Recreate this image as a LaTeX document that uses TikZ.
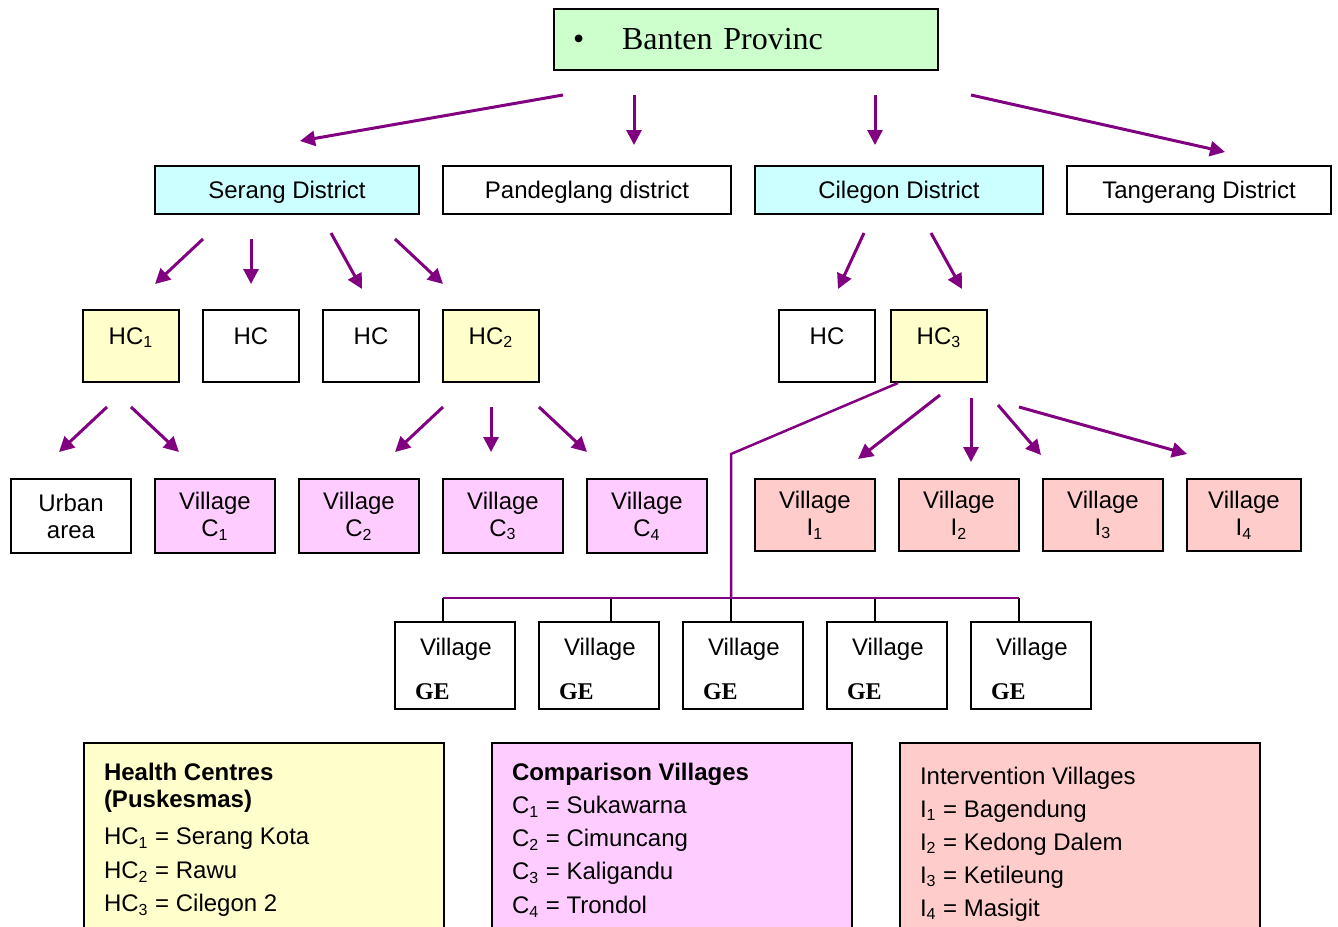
\documentclass[tikz,border=0pt]{standalone}
\usepackage{fontspec}
\setmainfont{Liberation Sans}
\newfontfamily\serifface{Liberation Serif}
\usetikzlibrary{arrows.meta}

\definecolor{provgreen}{HTML}{CCFFCC}
\definecolor{distcyan}{HTML}{CCFFFF}
\definecolor{hcyellow}{HTML}{FFFFCC}
\definecolor{comppink}{HTML}{FFCCFF}
\definecolor{intvred}{HTML}{FFCCCC}
\definecolor{linkpurple}{HTML}{800080}

\tikzset{
  every node/.style={font=\fontsize{12}{13.5}\selectfont},
  box/.style={draw, line width=1pt, inner sep=0pt, align=center},
  province/.style={box, fill=provgreen, align=left, text width=192pt, minimum height=30.5pt,
    font=\serifface\fontsize{16}{18}\selectfont},
  district/.style={box, minimum width=132pt, minimum height=24pt, text height=8.8pt, text depth=0.6pt},
  hcbox/.style={box, minimum width=48pt, text height=17pt, text depth=19pt},
  villbox/.style={box, minimum width=60pt, minimum height=37pt},
  gebox/.style={box, align=left, text width=40pt, inner xsep=10pt, minimum height=43.5pt},
  legend/.style={box, anchor=north west, inner xsep=10pt, inner ysep=10pt},
  arr/.style={draw=linkpurple, line width=1.5pt, -{Triangle[length=7.5pt,width=7.5pt]}},
  feed/.style={draw=linkpurple, line width=1.25pt},
}

\begin{document}
\begin{tikzpicture}[x=0.5pt, y=-0.5pt]
  \useasboundingbox (0,0) rectangle (1338,926);

  % Nodes
  \node[province] (banten) at (746,39.5) {\makebox[34pt][l]{\hspace*{9.5pt}\textbullet}Banten Provinc};

  \node[district, fill=distcyan] (serang) at (287,190) {Serang District};
  \node[district, minimum width=144pt] (pandeglang) at (587,190) {Pandeglang district};
  \node[district, minimum width=144pt, fill=distcyan] (cilegon) at (899,190) {Cilegon District};
  \node[district] (tangerang) at (1199,190) {Tangerang District};

  \node[hcbox, fill=hcyellow] (hcone) at (131,346) {HC\textsubscript{1}};
  \node[hcbox] (hcsa) at (251,346) {HC};
  \node[hcbox] (hcsb) at (371,346) {HC};
  \node[hcbox, fill=hcyellow] (hctwo) at (491,346) {HC\textsubscript{2}};
  \node[hcbox] (hcca) at (827,346) {HC};
  \node[hcbox, fill=hcyellow] (hcthree) at (939,346) {HC\textsubscript{3}};

  \node[villbox] (urban) at (71,516) {Urban\\area};
  \node[villbox, fill=comppink] (vcone) at (215,516) {Village\\C\textsubscript{1}};
  \node[villbox, fill=comppink] (vctwo) at (359,516) {Village\\C\textsubscript{2}};
  \node[villbox, fill=comppink] (vcthree) at (503,516) {Village\\C\textsubscript{3}};
  \node[villbox, fill=comppink] (vcfour) at (647,516) {Village\\C\textsubscript{4}};

  \node[villbox, fill=intvred, minimum height=36pt] (vione) at (815,515) {Village\\I\textsubscript{1}};
  \node[villbox, fill=intvred, minimum height=36pt] (vitwo) at (959,515) {Village\\I\textsubscript{2}};
  \node[villbox, fill=intvred, minimum height=36pt] (vithree) at (1103,515) {Village\\I\textsubscript{3}};
  \node[villbox, fill=intvred, minimum height=36pt, minimum width=57pt] (vifour) at (1244,515) {Village\\I\textsubscript{4}};

  \foreach \i/\x in {1/455,2/599,3/743,4/887,5/1031}
    \node[gebox] (ge\i) at (\x,665.5) {\rule{0pt}{12.5pt}\hspace*{2.5pt}Village\\[8.5pt]{\serifface\bfseries GE}};

  % Legend
  \node[legend, fill=hcyellow] (hclegend) at (83,742) {\parbox[c][80pt][t]{160pt}{\raggedright
    \textbf{Health Centres}\\\textbf{(Puskesmas)}\\[5pt]
    HC\textsubscript{1} = Serang Kota\\[3.5pt]
    HC\textsubscript{2} = Rawu\\[3.25pt]
    HC\textsubscript{3} = Cilegon 2}};
  \node[legend, fill=comppink] (complegend) at (491,742) {\parbox[c][80pt][t]{160pt}{\raggedright
    \textbf{Comparison Villages}\\[3pt]
    C\textsubscript{1} = Sukawarna\\[3pt]
    C\textsubscript{2} = Cimuncang\\[3pt]
    C\textsubscript{3} = Kaligandu\\[3.5pt]
    C\textsubscript{4} = Trondol}};
  \node[legend, fill=intvred] (intvlegend) at (899,742) {\parbox[c][80pt][t]{160pt}{\raggedright
    \rule{0pt}{10.5pt}Intervention Villages\\[3pt]
    I\textsubscript{1} = Bagendung\\[3pt]
    I\textsubscript{2} = Kedong Dalem\\[3pt]
    I\textsubscript{3} = Ketileung\\[3pt]
    I\textsubscript{4} = Masigit}};

  % Arrows
  \draw[arr] ([shift={(-183,24)}]banten.south) -- ([shift={(13,-24)}]serang.north);
  \draw[arr] ([shift={(-112,24)}]banten.south) -- ([shift={(47,-20)}]pandeglang.north);
  \draw[arr] ([shift={(129,24)}]banten.south) -- ([shift={(-24,-20)}]cilegon.north);
  \draw[arr] ([shift={(225,24)}]banten.south) -- ([shift={(26,-13)}]tangerang.north);

  \draw[arr] ([shift={(-84,24)}]serang.south) -- ([shift={(24,-25)}]hcone.north);
  \draw[arr] ([shift={(-36,24)}]serang.south) -- ([shift={(0,-25)}]hcsa.north);
  \draw[arr] ([shift={(44,18)}]serang.south) -- ([shift={(-9,-20)}]hcsb.north);
  \draw[arr] ([shift={(108,24)}]serang.south) -- ([shift={(-48,-25)}]hctwo.north);

  \draw[arr] ([shift={(-35,18)}]cilegon.south) -- ([shift={(11,-20)}]hcca.north);
  \draw[arr] ([shift={(32,18)}]cilegon.south) -- ([shift={(23,-20)}]hcthree.north);

  \draw[arr] ([shift={(-24,24)}]hcone.south) -- ([shift={(-12,-26)}]urban.north);
  \draw[arr] ([shift={(0,24)}]hcone.south) -- ([shift={(-36,-26)}]vcone.north);

  \draw[arr] ([shift={(-48,24)}]hctwo.south) -- ([shift={(36,-26)}]vctwo.north);
  \draw[arr] ([shift={(0,24)}]hctwo.south) -- ([shift={(-12,-26)}]vcthree.north);
  \draw[arr] ([shift={(48,24)}]hctwo.south) -- ([shift={(-60,-26)}]vcfour.north);

  \draw[arr] ([shift={(1,12)}]hcthree.south) -- ([shift={(43,-19)}]vione.north);
  \draw[arr] ([shift={(32,15)}]hcthree.south) -- ([shift={(12,-16)}]vitwo.north);
  \draw[arr] ([shift={(59,22)}]hcthree.south) -- ([shift={(-62,-23)}]vithree.north);
  \draw[arr] ([shift={(80,24)}]hcthree.south) -- ([shift={(-57,-24)}]vifour.north);

  % HC3 to the GE villages
  \coordinate (gebend) at (731,454);
  \coordinate (gebus) at (731,598);
  \draw[feed] ([xshift=4pt]hcthree.south west) -- (gebend) -- (gebus);
  \foreach \i/\dx in {1/-6pt,2/6pt,3/-6pt,4/-6pt,5/-6pt} {
    \coordinate (stem\i) at ([xshift=\dx]ge\i.north);
    \draw[line width=1pt] (stem\i |- gebus) -- (stem\i);
  }
  \draw[feed] (stem1 |- gebus) -- (stem5 |- gebus);
\end{tikzpicture}
\end{document}
